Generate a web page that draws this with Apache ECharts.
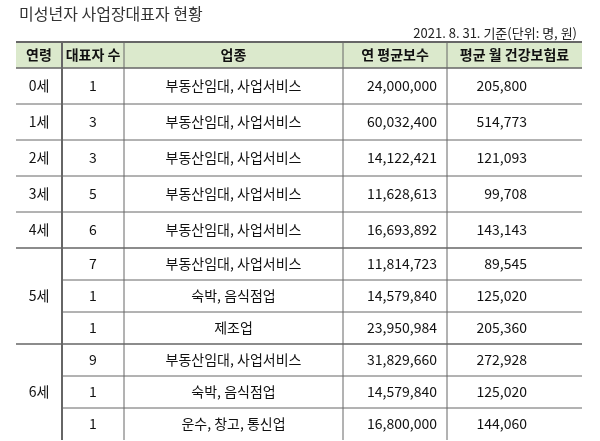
<!DOCTYPE html>
<html><head><meta charset="utf-8">
<script src="https://cdn.jsdelivr.net/npm/echarts@6/dist/echarts.min.js"></script>
<style>html,body{margin:0;background:#fff}#c{width:600px;height:441px}</style>
</head><body><div id="c"></div>
<script>
var headers = ['연령', '대표자 수', '업종', '연 평균보수', '평균 월 건강보험료'];
var ages = ['0세', '1세', '2세', '3세', '4세', '5세', '5세', '5세', '6세', '6세', '6세'];
var counts = [1, 3, 3, 5, 6, 7, 1, 1, 9, 1, 1];
var industries = ['부동산임대, 사업서비스', '부동산임대, 사업서비스', '부동산임대, 사업서비스', '부동산임대, 사업서비스',
  '부동산임대, 사업서비스', '부동산임대, 사업서비스', '숙박, 음식점업', '제조업',
  '부동산임대, 사업서비스', '숙박, 음식점업', '운수, 창고, 통신업'];
var pay = [24000000, 60032400, 14122421, 11628613, 16693892, 11814723, 14579840, 23950984, 31829660, 14579840, 16800000];
var insurance = [205800, 514773, 121093, 99708, 143143, 89545, 125020, 205360, 272928, 125020, 144060];

// layout (pixels within the table)
var colEdges = [0, 46, 108, 327, 431, 566];
var rowH = [36, 36, 36, 36, 36, 32, 32, 32, 32, 32, 32];
var headH = 26;
var font = '"Noto Sans CJK KR", sans-serif';

var fmt = function (v) { return v.toLocaleString('en-US'); };
var rowTop = [];
var acc = headH;
rowH.forEach(function (h) { rowTop.push(acc); acc += h; });

function ageSpan(i) {
  var s = i, e = i;
  while (s > 0 && ages[s - 1] === ages[i]) s--;
  while (e < ages.length - 1 && ages[e + 1] === ages[i]) e++;
  return [s, e];
}

var line = '#666';
function renderItem(params, api) {
  var i = api.value(0);
  var kids = [];
  var X = function (x) { return api.coord([x, 0])[0]; };
  var Y = function (y) { return api.coord([0, y])[1]; };
  var txt = function (t, x, y, align, bold) {
    kids.push({ type: 'text', style: { text: t, x: x, y: y, align: align, verticalAlign: 'middle',
      font: (bold ? 'bold ' : '') + '14px ' + font, fill: '#111' } });
  };
  var hl = function (x0, x1, y, w) {
    kids.push({ type: 'line', shape: { x1: X(x0), y1: Y(y), x2: X(x1), y2: Y(y) }, style: { stroke: line, lineWidth: w || 1 } });
  };
  if (i === -1) {
    kids.push({ type: 'rect', shape: { x: X(0), y: Y(0), width: X(566) - X(0), height: Y(headH) - Y(0) }, style: { fill: '#dbe9cc' } });
    headers.forEach(function (h, k) { txt(h, (X(colEdges[k]) + X(colEdges[k + 1])) / 2, Y(headH / 2), 'center', true); });
    hl(0, 566, 0, 2);
    hl(0, 566, headH, 1);
    var bottom = acc;
    for (var k = 1; k < colEdges.length - 1; k++) {
      kids.push({ type: 'line', shape: { x1: X(colEdges[k]), y1: Y(0), x2: X(colEdges[k]), y2: Y(bottom) },
        style: { stroke: line, lineWidth: k === 1 ? 2 : 1 } });
    }
    return { type: 'group', children: kids };
  }
  var t = rowTop[i], h = rowH[i], cy = Y(t + h / 2);
  var sp = ageSpan(i);
  if (sp[0] === i) {
    txt(ages[i], (X(colEdges[0]) + X(colEdges[1])) / 2, (Y(rowTop[sp[0]]) + Y(rowTop[sp[1]] + rowH[sp[1]])) / 2, 'center');
    hl(0, 566, t, i >= 5 ? 1.5 : 1);
  } else {
    hl(colEdges[1], 566, t, 1);
  }
  txt(String(counts[i]), (X(colEdges[1]) + X(colEdges[2])) / 2, cy, 'center');
  txt(industries[i], (X(colEdges[2]) + X(colEdges[3])) / 2, cy, 'center');
  txt(fmt(pay[i]), X(colEdges[4]) - 10, cy, 'right');
  txt(fmt(insurance[i]), X(colEdges[5]) - 55, cy, 'right');
  return { type: 'group', children: kids };
}

var data = [[-1]].concat(ages.map(function (_, i) { return [i]; }));
var chart = echarts.init(document.getElementById('c'));
chart.setOption({
  animation: false,
  title: [
    { text: '미성년자 사업장대표자 현황', left: 14, top: 1, textStyle: { fontFamily: font, fontSize: 16, fontWeight: 'normal', color: '#333' } },
    { text: '2021. 8. 31. 기준(단위: 명, 원)', right: 18, top: 22, textStyle: { fontFamily: font, fontSize: 13, fontWeight: 'normal', color: '#222' } }
  ],
  grid: { left: 16, right: 18, top: 42, bottom: 441 - 42 - 399 },
  xAxis: { type: 'value', min: 0, max: 566, show: false },
  yAxis: { type: 'value', min: 0, max: 399, inverse: true, show: false },
  series: [{ type: 'custom', renderItem: renderItem, data: data, clip: false }]
});
</script></body></html>
